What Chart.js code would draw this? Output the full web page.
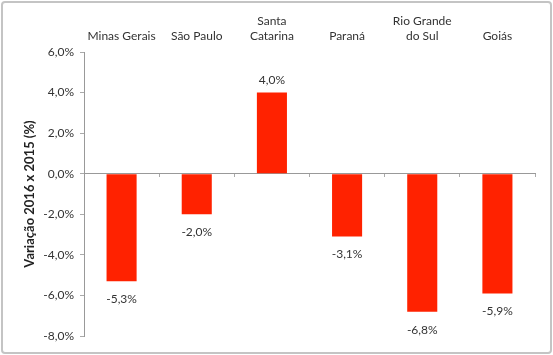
<!DOCTYPE html>
<html>
<head>
<meta charset="utf-8">
<script src="https://cdn.jsdelivr.net/npm/chart.js@4/dist/chart.umd.min.js"></script>
<style>
  html, body { margin: 0; padding: 0; background: #fff; }
  #wrap { width: 553px; height: 355px; position: relative; }
</style>
</head>
<body>
<div id="wrap"><canvas id="c" width="553" height="355"></canvas></div>
<script>
const categories = ['Minas Gerais', 'São Paulo', ['Santa', 'Catarina'], 'Paraná', ['Rio Grande', 'do Sul'], 'Goiás'];
const values = [-5.3, -2.0, 4.0, -3.1, -6.8, -5.9];
const yTicks = [-8, -6, -4, -2, 0, 2, 4, 6];
const yTitle = 'Variação 2016 x 2015 (%)';

const fmt = v => v.toFixed(1).replace('.', ',') + '%';
const FONT = 'Lato, "Open Sans", sans-serif';

const framePlugin = {
  id: 'frame',
  beforeDraw(chart) {
    const ctx = chart.ctx;
    ctx.save();
    ctx.fillStyle = '#fff';
    ctx.fillRect(0, 0, chart.width, chart.height);
    ctx.strokeStyle = '#c4c4c4';
    ctx.lineWidth = 2;
    ctx.beginPath();
    ctx.roundRect(2, 2, chart.width - 4, chart.height - 4, 3);
    ctx.stroke();
    ctx.restore();
  }
};

const labelPlugin = {
  id: 'vals',
  afterDatasetsDraw(chart) {
    const ctx = chart.ctx;
    const meta = chart.getDatasetMeta(0);
    ctx.save();
    ctx.font = '12px ' + FONT;
    ctx.fillStyle = '#333';
    ctx.textAlign = 'center';
    ctx.textBaseline = 'middle';
    meta.data.forEach((bar, i) => {
      const v = values[i];
      const y = v >= 0 ? bar.y - 12 : bar.y + 18;
      ctx.fillText(fmt(v), bar.x, y);
    });
    ctx.restore();
  }
};

new Chart(document.getElementById('c'), {
  type: 'bar',
  data: {
    labels: categories,
    datasets: [{
      data: values,
      backgroundColor: '#ff2200',
      borderWidth: 0,
      categoryPercentage: 0.8,
      barPercentage: 0.5,
      xAxisID: 'x'
    }]
  },
  options: {
    responsive: false,
    animation: false,
    devicePixelRatio: 1,
    layout: { padding: { left: 0, right: 18, top: 0, bottom: 19 } },
    plugins: { legend: { display: false }, tooltip: { enabled: false } },
    scales: {
      x: {
        position: { y: 0 },
        offset: true,
        grid: {
          display: true,
          offset: true,
          drawOnChartArea: false,
          drawTicks: true,
          tickLength: 3,
          color: '#aaa'
        },
        border: { display: true, color: '#999', width: 1 },
        ticks: { display: false }
      },
      xTop: {
        type: 'category',
        labels: categories,
        position: 'top',
        offset: true,
        grid: { display: false, drawTicks: false },
        border: { display: false },
        ticks: {
          color: '#333',
          font: { family: FONT, size: 12 },
          padding: 9,
          maxRotation: 0,
          autoSkip: false
        },
        afterFit(s) { s.height = 52; }
      },
      y: {
        min: -8,
        max: 6,
        afterBuildTicks(s) { s.ticks = yTicks.map(v => ({ value: v })); },
        grid: {
          display: true,
          drawOnChartArea: false,
          drawTicks: true,
          tickLength: 4,
          color: '#aaa'
        },
        border: { display: true, color: '#999', width: 1 },
        ticks: {
          color: '#333',
          font: { family: FONT, size: 12 },
          padding: 6,
          callback: v => fmt(v)
        },
        title: {
          display: true,
          text: yTitle,
          color: '#222',
          font: { family: FONT, size: 13, weight: 'bold' },
          padding: { top: 22, bottom: 4 }
        },
        afterFit(s) { s.width = 84; }
      }
    }
  },
  plugins: [framePlugin, labelPlugin]
});
</script>
</body>
</html>
